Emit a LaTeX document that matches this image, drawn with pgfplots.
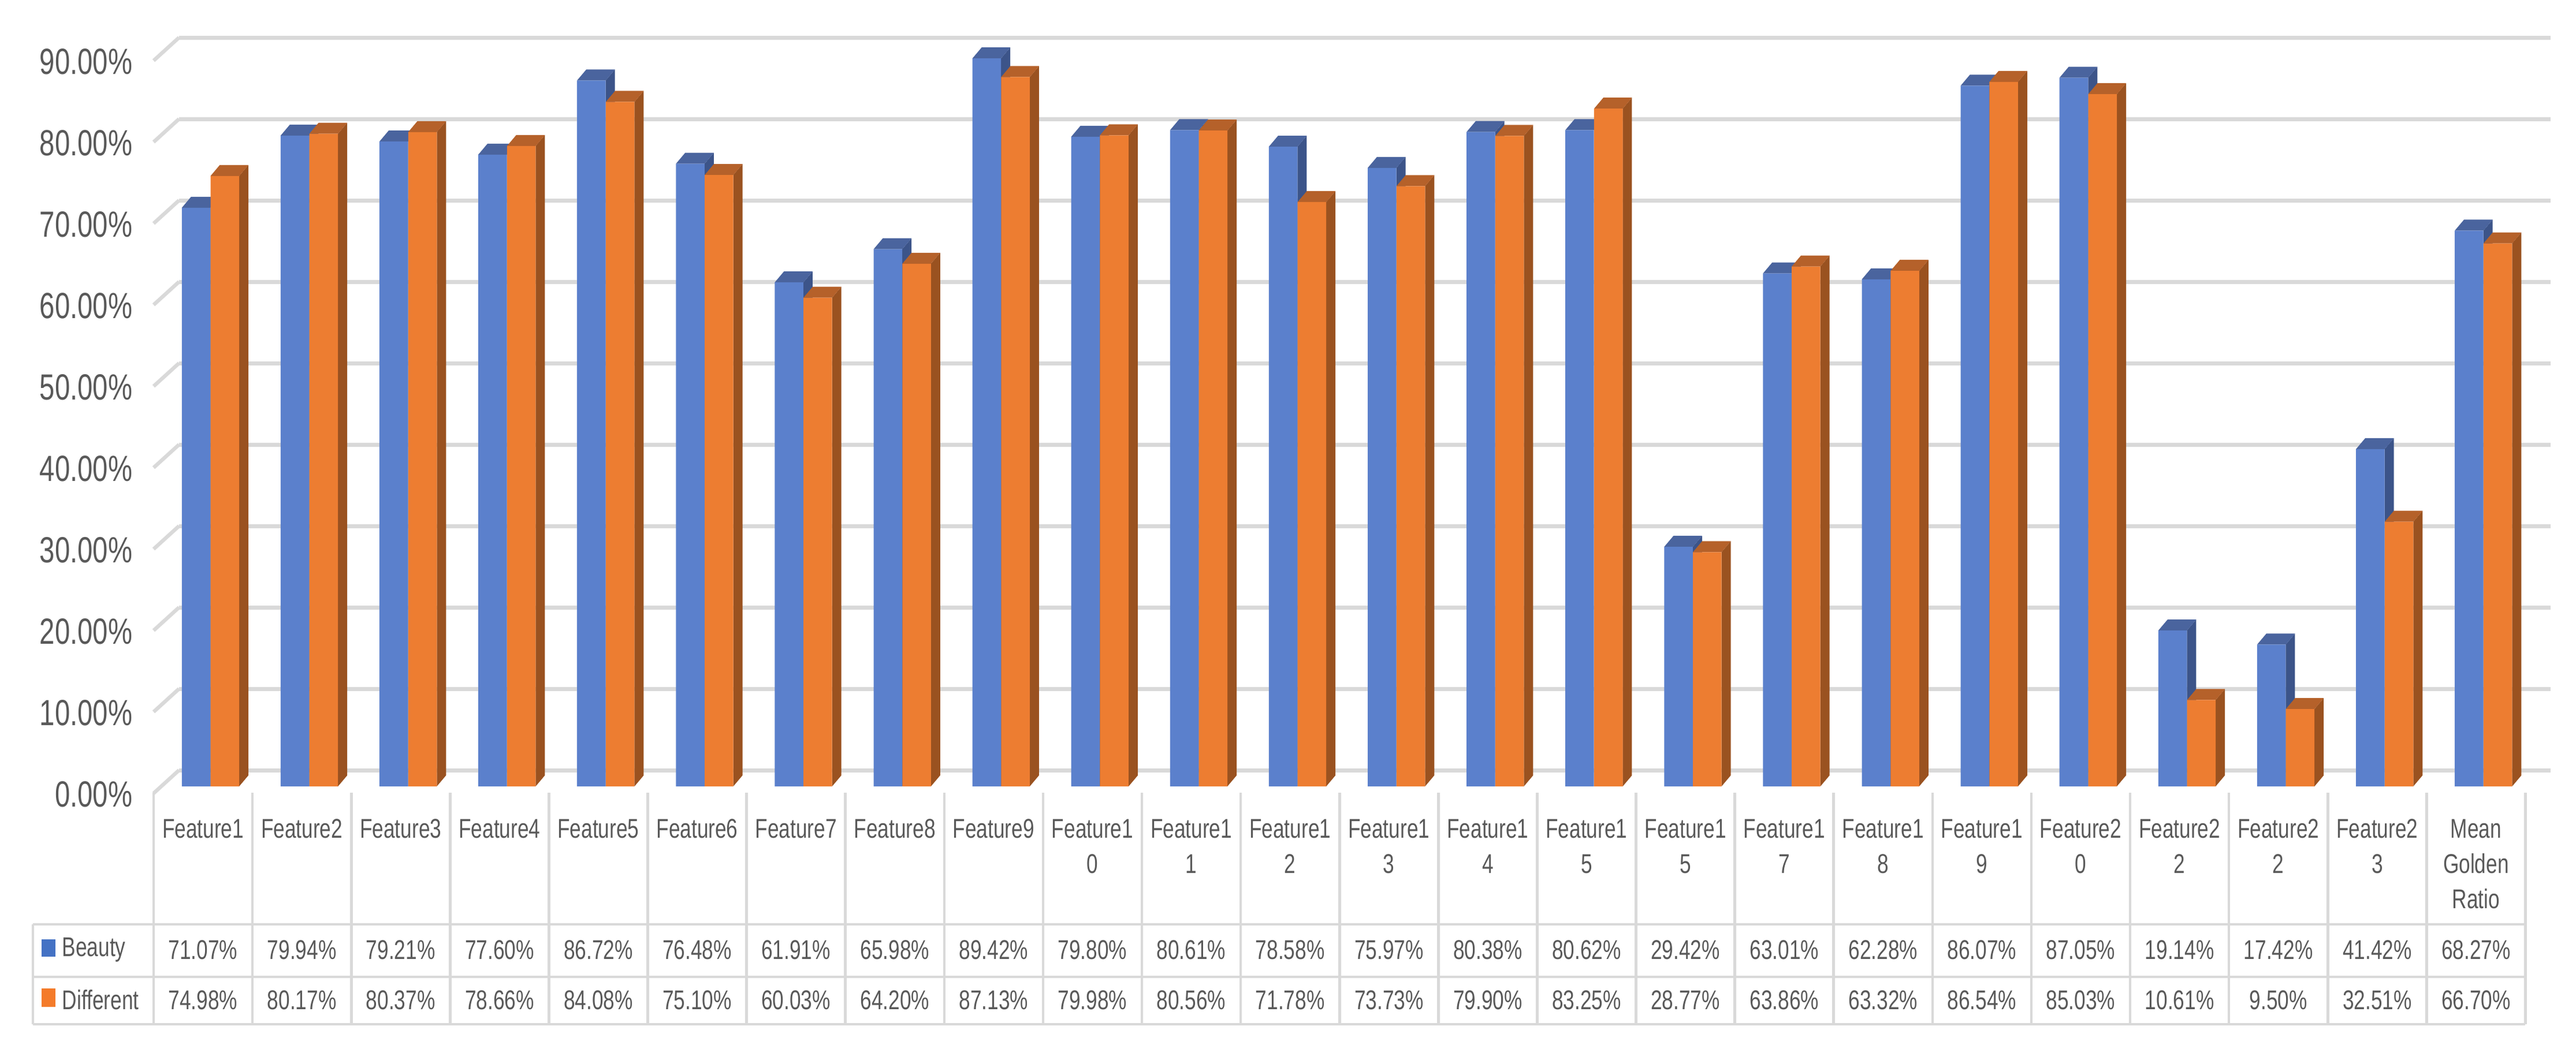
\documentclass[border=0pt]{standalone}
\usepackage{fontspec}
\setmainfont[FakeStretch=0.75]{Liberation Sans}
\usepackage{pgfplots}
\usepackage{pgfplotstable}
\pgfplotsset{compat=1.18}

% drawing scale: one reference pixel is 0.25pt
\definecolor{blueF}{HTML}{5B80CC}
\definecolor{blueT}{HTML}{4A649E}
\definecolor{blueS}{HTML}{3C5489}
\definecolor{orangeF}{HTML}{ED7D31}
\definecolor{orangeT}{HTML}{B5612A}
\definecolor{orangeS}{HTML}{9A5220}
\definecolor{gridc}{HTML}{D9D9D9}
\definecolor{txt}{HTML}{595959}

\pgfplotstableread{
idx beauty different
0 71.07 74.98
1 79.94 80.17
2 79.21 80.37
3 77.60 78.66
4 86.72 84.08
5 76.48 75.10
6 61.91 60.03
7 65.98 64.20
8 89.42 87.13
9 79.80 79.98
10 80.61 80.56
11 78.58 71.78
12 75.97 73.73
13 80.38 79.90
14 80.62 83.25
15 29.42 28.77
16 63.01 63.86
17 62.28 63.32
18 86.07 86.54
19 87.05 85.03
20 19.14 10.61
21 17.42 9.50
22 41.42 32.51
23 68.27 66.70
}\datatable

% extruded part of a bar, drawn at the middle of its top front edge
\newcommand\barfaces[2]{%
  \pgfsetfillcolor{#1}%
  \pgfpathmoveto{\pgfpoint{6.19pt}{0pt}}%
  \pgfpathlineto{\pgfpoint{10.19pt}{4.75pt}}%
  \pgfpathlineto{\pgfpoint{10.19pt}{4.75pt-\barh pt}}%
  \pgfpathlineto{\pgfpoint{6.19pt}{-\barh pt}}%
  \pgfpathclose\pgfusepathqfill
  \pgfsetfillcolor{#2}%
  \pgfpathmoveto{\pgfpoint{-6.19pt}{0pt}}%
  \pgfpathlineto{\pgfpoint{-2.19pt}{4.75pt}}%
  \pgfpathlineto{\pgfpoint{10.19pt}{4.75pt}}%
  \pgfpathlineto{\pgfpoint{6.19pt}{0pt}}%
  \pgfpathclose\pgfusepathqfill
}
\pgfdeclareplotmark{facesB}{\barfaces{blueS}{blueT}}
\pgfdeclareplotmark{facesO}{\barfaces{orangeS}{orangeT}}
\pgfdeclareplotmark{wall}{%
  \pgfpathmoveto{\pgfpoint{0pt}{-3pt}}%
  \pgfpathlineto{\pgfpoint{11pt}{7pt}}%
  \pgfsetlinewidth{1.6pt}\pgfsetstrokecolor{gridc}\pgfusepathqstroke
}

\pgfplotsset{
  faces/.style={only marks, scatter, scatter src=y, mark=#1,
    visualization depends on={3.525*rawy \as \barh},
    scatter/@pre marker code/.code={},
    scatter/@post marker code/.code={}},
  cell/.style={only marks, mark=none, point meta=explicit symbolic,
    nodes near coords={\pgfplotspointmeta\%},
    every node near coord/.style={anchor=center, inner sep=0pt, font=\tabfont, text=txt}},
}
\newcommand\tabfont{\fontsize{11.75}{15.3}\selectfont}

\begin{document}
\begin{tikzpicture}
\begin{axis}[
  x=42.775pt, y=3.525pt,
  xmin=-0.5, xmax=23.5, ymin=0, ymax=90,
  clip=false, clip mode=individual,
  axis line style={draw=none},
  tick style={draw=none},
  ymajorgrids,
  major grid style={draw=gridc, line width=1.75pt, xshift=11pt, yshift=7pt},
  ytick={0,10,...,90},
  yticklabel={\pgfmathprintnumber[fixed, fixed zerofill, precision=2, assume math mode=true]{\tick}\%},
  yticklabel style={font=\fontsize{15.75}{18}\selectfont, text=txt, inner sep=0pt, anchor=east, xshift=-9pt, yshift=-3.4pt},
  xtick={0,...,23},
  xticklabels={Feature1,Feature2,Feature3,Feature4,Feature5,Feature6,Feature7,Feature8,Feature9,
    {Feature1\\0},{Feature1\\1},{Feature1\\2},{Feature1\\3},{Feature1\\4},{Feature1\\5},{Feature1\\5},
    {Feature1\\7},{Feature1\\8},{Feature1\\9},{Feature2\\0},{Feature2\\2},{Feature2\\2},{Feature2\\3},
    {Mean\\Golden\\Ratio}},
  xticklabel style={font=\tabfont, text=txt, align=center, inner sep=0pt, anchor=north, yshift=-14pt},
]
% slanted side wall
\addplot[only marks, mark=wall] coordinates {(-0.5,0)(-0.5,10)(-0.5,20)(-0.5,30)(-0.5,40)(-0.5,50)(-0.5,60)(-0.5,70)(-0.5,80)(-0.5,90)};

% table rules
\draw[gridc, line width=1.15pt] (axis cs:-1.7215,-16.95) -- (axis cs:23.5,-16.95);
\draw[gridc, line width=1.15pt] (axis cs:-1.7215,-23.4) -- (axis cs:23.5,-23.4);
\draw[gridc, line width=1.15pt] (axis cs:-1.7215,-29.22) -- (axis cs:23.5,-29.22);
\draw[gridc, line width=1.15pt] (axis cs:-1.7215,-16.95) -- (axis cs:-1.7215,-29.22);
\pgfplotsinvokeforeach{0,...,24}{
  \draw[gridc, line width=1.15pt] (axis cs:#1-0.5,-0.78) -- (axis cs:#1-0.5,-29.22);
}

% bars, back to front
\addplot[faces=facesB] table[x expr=\coordindex-0.0701, y=beauty] {\datatable};
\addplot[ybar, bar width=12.38pt, bar shift=-3pt, fill=blueF, draw=none] table[x=idx, y=beauty] {\datatable};
\addplot[faces=facesO] table[x expr=\coordindex+0.2206, y=different] {\datatable};
\addplot[ybar, bar width=12.38pt, bar shift=9.44pt, fill=orangeF, draw=none] table[x=idx, y=different] {\datatable};

% table values
\addplot[cell] table[x=idx, y expr=-20.07, meta=beauty] {\datatable};
\addplot[cell] table[x=idx, y expr=-26.24, meta=different] {\datatable};

% row heads
\fill[fill={rgb,255:red,68;green,114;blue,196}] (axis cs:-1.6336,-18.79) rectangle (axis cs:-1.4934,-20.92);
\fill[fill={rgb,255:red,244;green,123;blue,42}] (axis cs:-1.6336,-24.82) rectangle (axis cs:-1.4934,-27.09);
\node[anchor=west, inner sep=0pt, font=\tabfont, text=txt] at (axis cs:-1.429,-20.07) {Beauty};
\node[anchor=west, inner sep=0pt, font=\tabfont, text=txt] at (axis cs:-1.429,-26.24) {Different};
\end{axis}
\path (-66.5pt,-111.75pt) rectangle ++(1115pt,452.25pt);
\end{tikzpicture}
\end{document}
